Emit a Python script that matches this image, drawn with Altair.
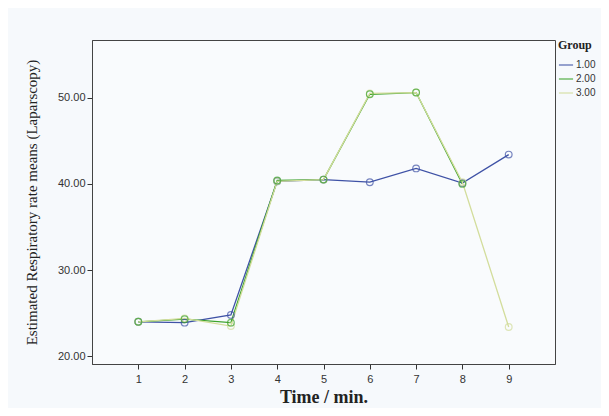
import altair as alt
import pandas as pd

times = [1, 2, 3, 4, 5, 6, 7, 8, 9]
group_1 = [24.0, 23.9, 24.8, 40.3, 40.5, 40.2, 41.8, 40.1, 43.4]
group_2 = [24.0, 24.3, 23.9, 40.4, 40.5, 50.4, 50.6, 40.0, None]
group_3 = [24.0, 24.4, 23.5, 40.3, 40.5, 50.5, 50.6, 40.2, 23.4]
groups = ["1.00", "2.00", "3.00"]
colors = ["#3f52a6", "#3da32c", "#d3dd9c"]
order = {"1.00": 1, "2.00": 3, "3.00": 2}

rows = []
for g, vals in zip(groups, [group_1, group_2, group_3]):
    for t, v in zip(times, vals):
        if v is not None:
            rows.append({"Time": t, "Value": v, "Group": g, "ord": order[g]})
df = pd.DataFrame(rows)

color = alt.Color("Group:N", scale=alt.Scale(domain=groups, range=colors),
                  legend=alt.Legend(title="Group", orient="none", legendX=466, legendY=0,
                                    symbolType="stroke", symbolStrokeWidth=1.5, symbolSize=200,
                                    titleFont="Liberation Serif", titleFontSize=12, titleFontWeight="bold",
                                    titleColor="#222", labelFont="Liberation Sans", labelFontSize=10,
                                    labelColor="#333", rowPadding=1, titlePadding=5, labelOffset=2))

x = alt.X("Time:Q", scale=alt.Scale(domain=[0, 10], nice=False),
          axis=alt.Axis(values=times, title="Time / min.", format="d", grid=False,
                        titleFont="Liberation Serif", titleFontSize=18, titleFontWeight="bold",
                        titleColor="#222", labelFont="Liberation Sans", labelFontSize=11,
                        labelColor="#333", tickColor="#333", domainColor="#444",
                        tickSize=5, labelPadding=4, titlePadding=4))
y = alt.Y("Value:Q", scale=alt.Scale(domain=[19.1, 56.7], nice=False, zero=False),
          axis=alt.Axis(values=[20, 30, 40, 50], format=".2f", grid=False,
                        title="Estimated  Respiratory rate means (Laparscopy)",
                        titleFont="Liberation Serif", titleFontSize=15, titleFontWeight="normal",
                        titleColor="#222", labelFont="Liberation Sans", labelFontSize=11,
                        labelColor="#333", tickColor="#333", domainColor="#444",
                        tickSize=5, labelPadding=2, titlePadding=18))

base = alt.Chart(df).encode(x=x, y=y, color=color, order="ord:Q")
lines = base.mark_line(strokeWidth=1.3).encode(detail="Group:N")
pts = base.mark_point(filled=False, size=45, strokeWidth=1.2)

chart = (lines + pts).properties(
    width=463, height=324,
    autosize=alt.AutoSizeParams(type="none"),
    padding={"left": 84, "top": 32, "right": 46, "bottom": 44},
    background="#f6f9fc",
).configure_view(stroke="#444", strokeWidth=1, fill="#f9fbfd")

chart.save("out.html", embed_options={"renderer": "svg", "actions": False})
